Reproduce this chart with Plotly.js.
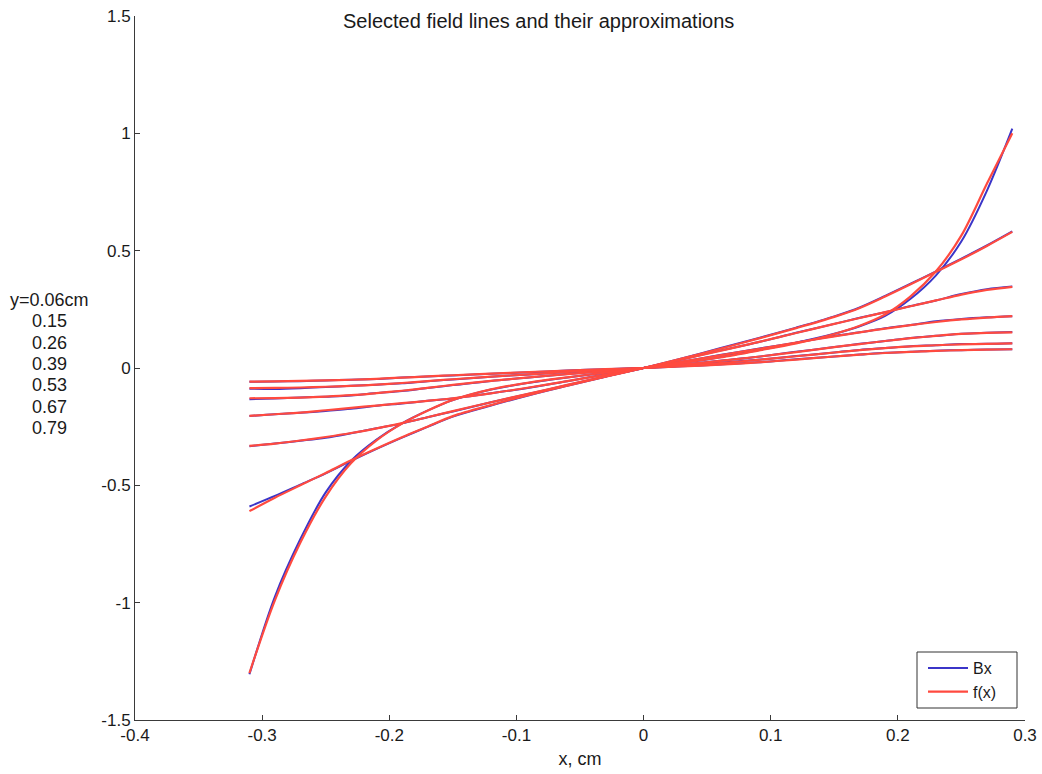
<!DOCTYPE html>
<html>
<head>
<meta charset="utf-8">
<script src="https://cdn.plot.ly/plotly-3.0.1.min.js"></script>
<style>html,body{margin:0;padding:0;background:#fff;}#chart{width:1042px;height:774px;}</style>
</head>
<body>
<div id="chart"></div>
<script>
// x positions (cm)
const xs = [-0.31,-0.29,-0.27,-0.25,-0.23,-0.21,-0.19,-0.17,-0.15,-0.12,-0.09,-0.06,-0.03,0,0.03,0.06,0.09,0.12,0.15,0.17,0.19,0.21,0.23,0.25,0.27,0.29];

// Field line labels (as listed on the left)
const lineLabels = ["y=0.06cm","0.15","0.26","0.39","0.53","0.67","0.79"];

// Bx values and fitted f(x) values for each field line
const bxA  = [-0.059,-0.057,-0.056,-0.053,-0.050,-0.047,-0.041,-0.036,-0.032,-0.024,-0.018,-0.011,-0.005,0,0.007,0.015,0.024,0.037,0.049,0.057,0.065,0.069,0.074,0.076,0.079,0.080];
const fitA = [-0.058,-0.057,-0.055,-0.053,-0.050,-0.046,-0.041,-0.036,-0.031,-0.024,-0.017,-0.011,-0.005,0,0.007,0.014,0.024,0.036,0.049,0.057,0.064,0.069,0.073,0.076,0.078,0.080];

const bxB  = [-0.088,-0.089,-0.086,-0.081,-0.076,-0.071,-0.065,-0.056,-0.049,-0.037,-0.028,-0.017,-0.008,0,0.010,0.022,0.035,0.051,0.066,0.077,0.085,0.093,0.097,0.102,0.103,0.106];
const fitB = [-0.086,-0.085,-0.083,-0.080,-0.076,-0.071,-0.064,-0.056,-0.048,-0.037,-0.027,-0.017,-0.008,0,0.010,0.021,0.035,0.050,0.066,0.076,0.085,0.092,0.097,0.101,0.103,0.105];

const bxC  = [-0.133,-0.130,-0.126,-0.122,-0.117,-0.107,-0.098,-0.085,-0.073,-0.055,-0.041,-0.026,-0.013,0,0.014,0.031,0.048,0.069,0.089,0.103,0.115,0.128,0.137,0.146,0.150,0.153];
const fitC = [-0.129,-0.128,-0.126,-0.122,-0.116,-0.107,-0.097,-0.085,-0.072,-0.055,-0.040,-0.026,-0.013,0,0.014,0.030,0.048,0.068,0.089,0.102,0.115,0.127,0.137,0.145,0.150,0.152];

const bxD  = [-0.205,-0.197,-0.191,-0.183,-0.174,-0.161,-0.151,-0.140,-0.130,-0.108,-0.084,-0.056,-0.028,0,0.027,0.055,0.082,0.108,0.136,0.152,0.169,0.183,0.199,0.209,0.216,0.221];
const fitD = [-0.204,-0.197,-0.190,-0.180,-0.170,-0.160,-0.150,-0.140,-0.129,-0.108,-0.083,-0.056,-0.028,0,0.027,0.054,0.081,0.108,0.135,0.152,0.168,0.183,0.196,0.207,0.215,0.221];

const bxE  = [-0.333,-0.322,-0.310,-0.297,-0.278,-0.257,-0.236,-0.210,-0.185,-0.146,-0.110,-0.072,-0.036,0,0.036,0.074,0.110,0.150,0.188,0.214,0.238,0.264,0.288,0.315,0.336,0.347];
const fitE = [-0.332,-0.322,-0.309,-0.294,-0.277,-0.257,-0.235,-0.210,-0.184,-0.146,-0.109,-0.072,-0.036,0,0.036,0.073,0.110,0.149,0.188,0.213,0.238,0.263,0.288,0.313,0.333,0.346];

const bxF  = [-0.590,-0.545,-0.497,-0.449,-0.396,-0.345,-0.297,-0.251,-0.207,-0.160,-0.116,-0.076,-0.037,0,0.041,0.084,0.127,0.172,0.220,0.258,0.307,0.359,0.412,0.466,0.522,0.582];
const fitF = [-0.610,-0.553,-0.500,-0.447,-0.393,-0.343,-0.295,-0.250,-0.205,-0.158,-0.115,-0.075,-0.037,0,0.040,0.082,0.125,0.170,0.218,0.256,0.305,0.357,0.410,0.463,0.520,0.580];

const bxG  = [-1.305,-0.975,-0.730,-0.530,-0.395,-0.305,-0.236,-0.182,-0.137,-0.092,-0.063,-0.040,-0.020,0,0.021,0.046,0.076,0.108,0.146,0.178,0.222,0.295,0.395,0.540,0.755,1.020];
const fitG = [-1.300,-0.990,-0.745,-0.548,-0.405,-0.308,-0.237,-0.182,-0.136,-0.091,-0.062,-0.040,-0.020,0,0.021,0.045,0.074,0.105,0.145,0.180,0.228,0.305,0.412,0.565,0.785,1.000];

// Axis ticks
const xTickVals = [-0.4,-0.3,-0.2,-0.1,0,0.1,0.2,0.3];
const xTickText = ["-0.4","-0.3","-0.2","-0.1","0","0.1","0.2","0.3"];
const yTickVals = [-1.5,-1,-0.5,0,0.5,1,1.5];
const yTickText = ["-1.5","-1","-0.5","0","0.5","1","1.5"];

const bxSeries  = [bxA,bxB,bxC,bxD,bxE,bxF,bxG];
const fitSeries = [fitA,fitB,fitC,fitD,fitE,fitF,fitG];

const BLUE = '#3b35c8';
const RED  = '#ff4a3f';

const traces = [];
bxSeries.forEach((ys, i) => {
  traces.push({x: xs, y: ys, type: 'scatter', mode: 'lines', name: 'Bx',
    legendgroup: 'bx', showlegend: i === 0,
    line: {color: BLUE, width: 2, shape: 'spline', smoothing: 0.9}, hoverinfo: 'skip'});
});
fitSeries.forEach((ys, i) => {
  traces.push({x: xs, y: ys, type: 'scatter', mode: 'lines', name: 'f(x)',
    legendgroup: 'fit', showlegend: i === 0,
    line: {color: RED, width: 2.2, shape: 'spline', smoothing: 0.9}, hoverinfo: 'skip'});
});

const FONT = 'Liberation Sans, Arial, sans-serif';
const annotations = lineLabels.map((t, i) => ({
  text: t, xref: 'paper', yref: 'paper',
  x: i === 0 ? -0.143 : -0.118, y: (720 - 300 - i * 21.3) / 704,
  xanchor: 'left', yanchor: 'middle', showarrow: false,
  font: {family: FONT, size: 18, color: '#1a1a1a'}
}));

const layout = {
  width: 1042, height: 774,
  margin: {l: 135, r: 17, t: 16, b: 54},
  paper_bgcolor: '#fff', plot_bgcolor: '#fff',
  font: {family: FONT, color: '#1a1a1a'},
  title: {text: 'Selected field lines and their approximations',
    font: {family: FONT, size: 20, color: '#1a1a1a'},
    xref: 'container', x: 0.517, xanchor: 'center',
    yref: 'container', y: 0.973, yanchor: 'middle'},
  xaxis: {range: [-0.4, 0.3], tickmode: 'array', tickvals: xTickVals, ticktext: xTickText,
    showgrid: false, zeroline: false, showline: true, linecolor: '#3a3a3a', linewidth: 1,
    ticks: 'inside', ticklen: 5, tickcolor: '#3a3a3a',
    tickfont: {family: FONT, size: 17, color: '#1a1a1a'},
    title: {text: 'x, cm', font: {family: FONT, size: 18, color: '#1a1a1a'}, standoff: 7}},
  yaxis: {range: [-1.5, 1.5], tickmode: 'array', tickvals: yTickVals, ticktext: yTickText,
    showgrid: false, zeroline: false, showline: true, linecolor: '#3a3a3a', linewidth: 1,
    ticks: 'inside', ticklen: 5, tickcolor: '#3a3a3a',
    tickfont: {family: FONT, size: 17, color: '#1a1a1a'}},
  legend: {x: (923 - 135) / 890, y: (720 - 651) / 704, xanchor: 'left', yanchor: 'top',
    bgcolor: 'rgba(0,0,0,0)', borderwidth: 0, itemwidth: 40,
    font: {family: FONT, size: 16, color: '#1a1a1a'},
    traceorder: 'normal'},
  shapes: [{type: 'rect', xref: 'paper', yref: 'paper',
    x0: (917 - 135) / 890, x1: (1017 - 135) / 890,
    y0: (720 - 708) / 704, y1: (720 - 652) / 704,
    line: {color: '#333', width: 1}, fillcolor: '#fff', layer: 'above'}],
  annotations: annotations,
  showlegend: true
};

Plotly.newPlot('chart', traces, layout, {staticPlot: true, displayModeBar: false});
</script>
</body>
</html>
